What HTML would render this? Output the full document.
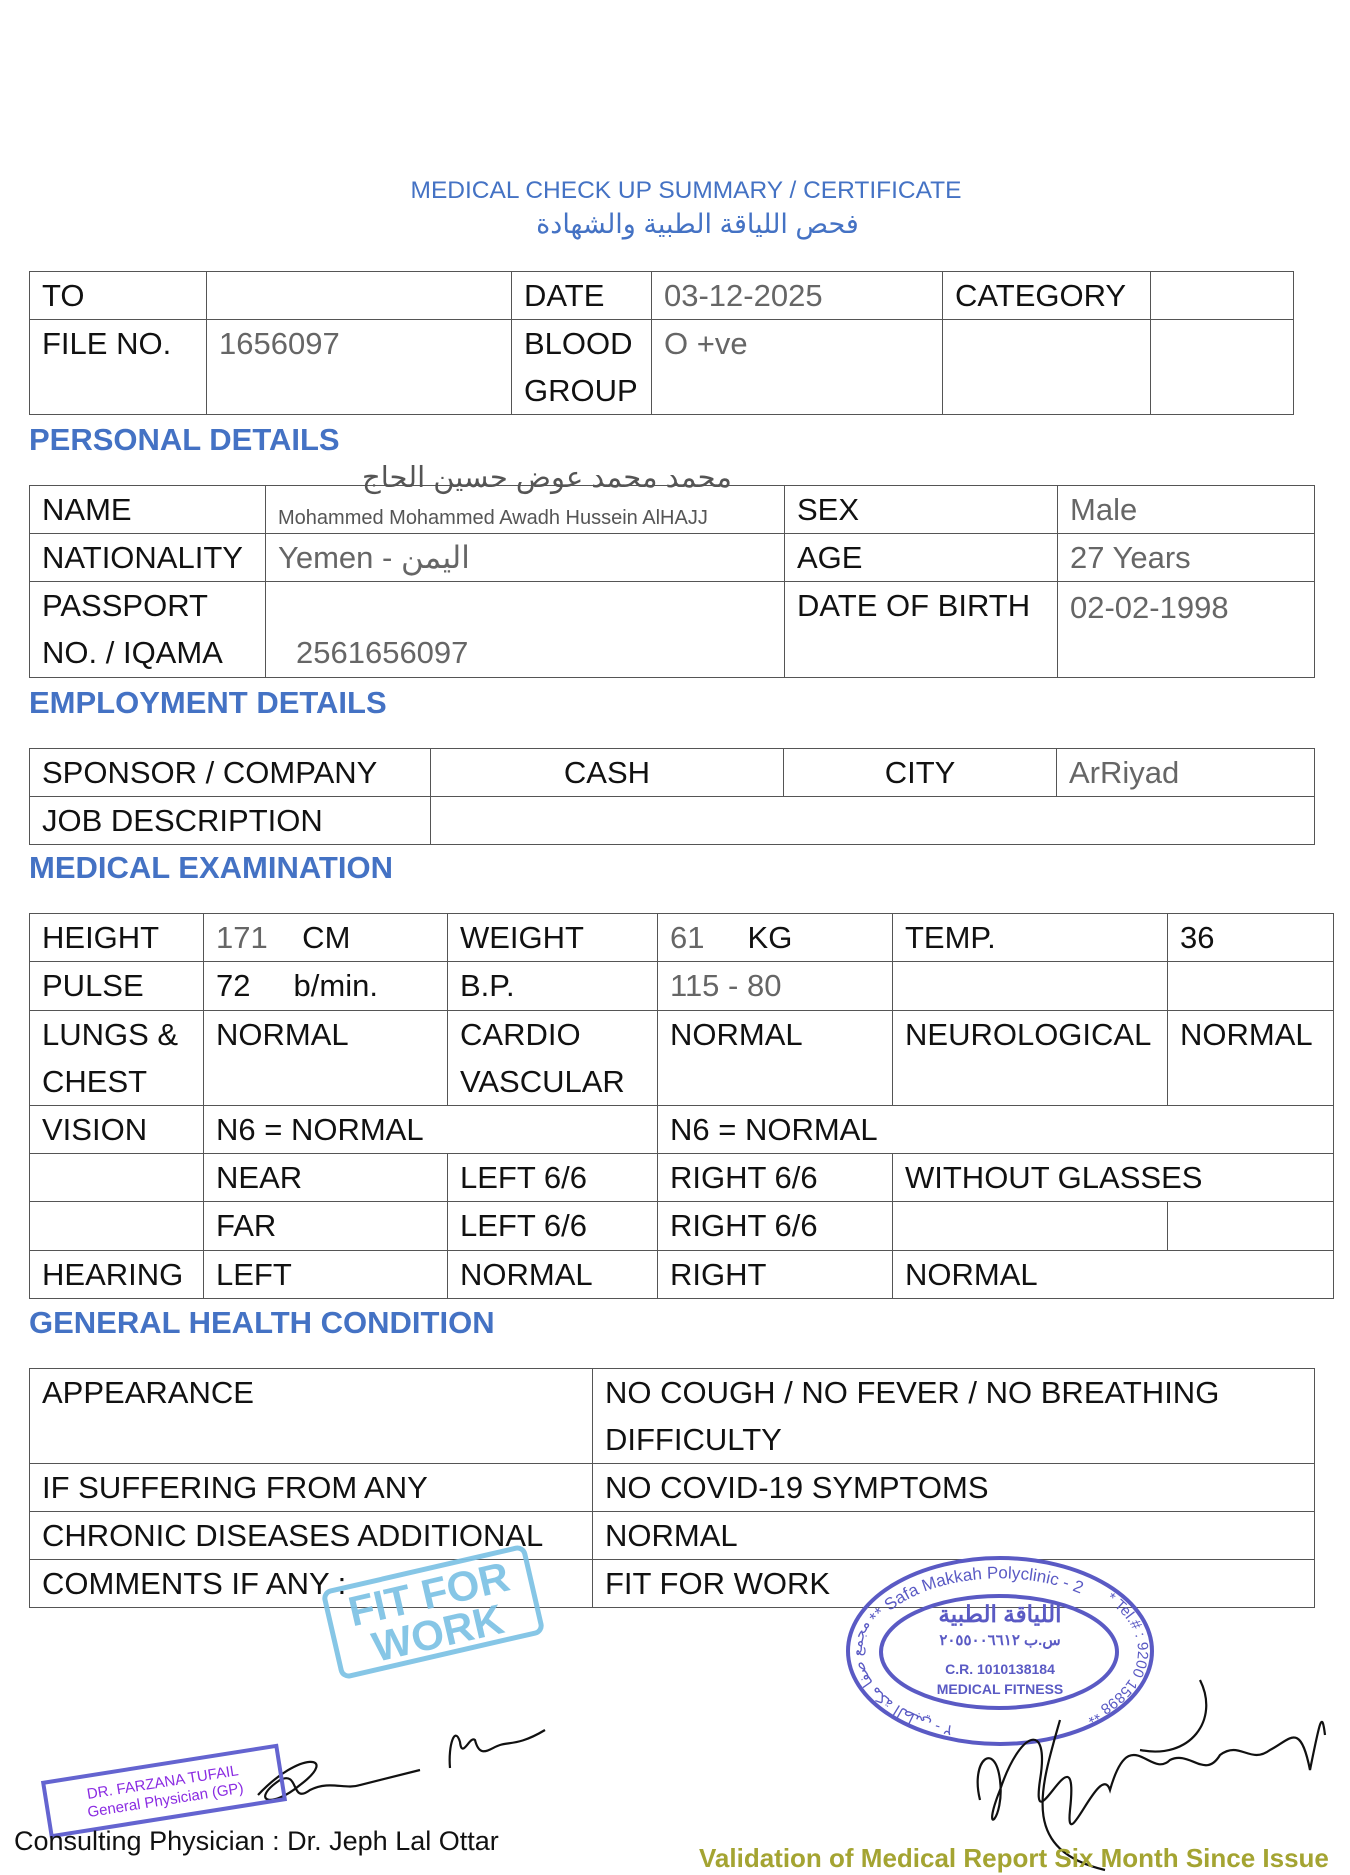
<!DOCTYPE html>
<html><head><meta charset="utf-8">
<style>
*{margin:0;padding:0;box-sizing:border-box}
body{width:1350px;height:1875px;background:#fff;position:relative;overflow:hidden;font-family:"Liberation Sans","Noto Sans CJK SC",sans-serif;color:#111}
.t{position:absolute;border-collapse:collapse;table-layout:fixed;font-size:31px}
.t td{border:1.5px solid #555;vertical-align:top;padding:0 0 0 12px;line-height:47px;white-space:nowrap;overflow:visible}
.g{color:#666}
.h{position:absolute;left:29px;color:#4472c4;font-weight:bold;font-size:31px}
.abs{position:absolute;white-space:nowrap}
</style></head><body>
<div class="abs" style="left:0;width:1372px;text-align:center;top:177px;color:#4472c4;font-size:24.5px">MEDICAL CHECK UP SUMMARY / CERTIFICATE</div>
<div class="abs" style="left:0;width:1395px;text-align:center;top:209px;color:#4472c4;font-size:27px">فحص اللياقة الطبية والشهادة</div>

<table class="t" style="left:29px;top:271px;width:1264px">
<colgroup><col style="width:177px"><col style="width:305px"><col style="width:140px"><col style="width:291px"><col style="width:208px"><col style="width:143px"></colgroup>
<tr style="height:48px"><td>TO</td><td></td><td>DATE</td><td class="g">03-12-2025</td><td>CATEGORY</td><td></td></tr>
<tr style="height:95px"><td>FILE NO.</td><td class="g">1656097</td><td>BLOOD<br>GROUP</td><td class="g">O +ve</td><td></td><td></td></tr>
</table>

<div class="h" style="top:422px">PERSONAL DETAILS</div>
<table class="t" style="left:29px;top:485px;width:1285px">
<colgroup><col style="width:236px"><col style="width:519px"><col style="width:273px"><col style="width:257px"></colgroup>
<tr style="height:48px"><td>NAME</td><td style="font-size:20px;color:#555;line-height:20px;padding-top:22px">Mohammed Mohammed Awadh Hussein AlHAJJ</td><td>SEX</td><td class="g">Male</td></tr>
<tr style="height:48px"><td>NATIONALITY</td><td class="g">Yemen - اليمن</td><td>AGE</td><td class="g">27 Years</td></tr>
<tr style="height:96px"><td>PASSPORT<br>NO. / IQAMA</td><td class="g" style="padding-top:47px;padding-left:30px">2561656097</td><td>DATE OF BIRTH</td><td class="g" style="padding-top:2px">02-02-1998</td></tr>
</table>
<div class="abs" style="left:362px;top:460px;font-size:29px;color:#555">محمد محمد عوض حسين الحاج</div>

<div class="h" style="top:685px">EMPLOYMENT DETAILS</div>
<table class="t" style="left:29px;top:748px;width:1285px">
<colgroup><col style="width:401px"><col style="width:353px"><col style="width:273px"><col style="width:258px"></colgroup>
<tr style="height:48px"><td>SPONSOR / COMPANY</td><td style="text-align:center;padding-left:0">CASH</td><td style="text-align:center;padding-left:0">CITY</td><td class="g">ArRiyad</td></tr>
<tr style="height:47px"><td>JOB DESCRIPTION</td><td colspan="3"></td></tr>
</table>

<div class="h" style="top:850px">MEDICAL EXAMINATION</div>
<table class="t" style="left:29px;top:913px;width:1304px">
<colgroup><col style="width:174px"><col style="width:244px"><col style="width:210px"><col style="width:235px"><col style="width:275px"><col style="width:166px"></colgroup>
<tr style="height:48px"><td>HEIGHT</td><td><span class="g">171</span>&nbsp;&nbsp;&nbsp;&nbsp;CM</td><td>WEIGHT</td><td><span class="g">61</span>&nbsp;&nbsp;&nbsp;&nbsp;&nbsp;KG</td><td>TEMP.</td><td>36</td></tr>
<tr style="height:49px"><td>PULSE</td><td>72&nbsp;&nbsp;&nbsp;&nbsp;&nbsp;b/min.</td><td>B.P.</td><td class="g">115 - 80</td><td></td><td></td></tr>
<tr style="height:95px"><td>LUNGS &amp;<br>CHEST</td><td>NORMAL</td><td>CARDIO<br>VASCULAR</td><td>NORMAL</td><td>NEUROLOGICAL</td><td>NORMAL</td></tr>
<tr style="height:48px"><td>VISION</td><td colspan="2">N6 = NORMAL</td><td colspan="3">N6 = NORMAL</td></tr>
<tr style="height:48px"><td></td><td>NEAR</td><td>LEFT 6/6</td><td>RIGHT 6/6</td><td colspan="2">WITHOUT GLASSES</td></tr>
<tr style="height:49px"><td></td><td>FAR</td><td>LEFT 6/6</td><td>RIGHT 6/6</td><td></td><td></td></tr>
<tr style="height:48px"><td>HEARING</td><td>LEFT</td><td>NORMAL</td><td>RIGHT</td><td colspan="2">NORMAL</td></tr>
</table>

<div class="h" style="top:1305px">GENERAL HEALTH CONDITION</div>
<table class="t" style="left:29px;top:1368px;width:1285px">
<colgroup><col style="width:563px"><col style="width:722px"></colgroup>
<tr style="height:95px"><td>APPEARANCE</td><td>NO COUGH / NO FEVER / NO BREATHING<br>DIFFICULTY</td></tr>
<tr style="height:48px"><td>IF SUFFERING FROM ANY</td><td>NO COVID-19 SYMPTOMS</td></tr>
<tr style="height:48px"><td>CHRONIC DISEASES ADDITIONAL</td><td>NORMAL</td></tr>
<tr style="height:48px"><td>COMMENTS IF ANY :</td><td>FIT FOR WORK</td></tr>
</table>

<div class="abs" style="left:328px;top:1566px;width:210px;height:92px;border:5px solid #7ac0e4;border-radius:10px;transform:rotate(-13deg);color:#7ac0e4;font-weight:bold;font-size:42px;line-height:40px;text-align:center;padding-top:3px;opacity:.9">FIT FOR<br>WORK</div>

<svg class="abs" style="left:0;top:0" width="1350" height="1875">
<ellipse cx="1000" cy="1651" rx="152" ry="93" fill="none" stroke="#5a5ac4" stroke-width="4"/>
<ellipse cx="999" cy="1652" rx="118" ry="56" fill="none" stroke="#5a5ac4" stroke-width="4"/>
<defs>
<path id="arc" d="M868,1640 A135,78 0 0 1 1132,1640"/>
<path id="arcR" d="M1106,1600 A138,80 0 0 1 1024,1730"/>
<path id="arcL" d="M953,1726 A138,80 0 0 1 870,1624"/>
</defs>
<text font-family="Liberation Sans" font-size="17" fill="#5a5ac4"><textPath href="#arc" startOffset="6%">** Safa Makkah Polyclinic - 2</textPath></text>
<text font-family="Liberation Sans" font-size="15" fill="#5a5ac4"><textPath href="#arcR">* Tel.# : 9200 15898 **</textPath></text>
<text font-family="Liberation Sans,sans-serif" font-size="15" fill="#5a5ac4"><textPath href="#arcL">مجمع صفا مكة الطبي - ٢</textPath></text>
<text x="1000" y="1622" text-anchor="middle" font-family="Liberation Sans,sans-serif" font-size="23" font-weight="bold" fill="#5a5ac4">اللياقة الطبية</text>
<text x="1000" y="1645" text-anchor="middle" font-family="Liberation Sans,sans-serif" font-size="15" font-weight="bold" fill="#5a5ac4">س.ب ٢٠٥٥٠٠٦٦١٢</text>
<text x="1000" y="1674" text-anchor="middle" font-family="Liberation Sans,sans-serif" font-size="14" font-weight="bold" fill="#5a5ac4">C.R. 1010138184</text>
<text x="1000" y="1694" text-anchor="middle" font-family="Liberation Sans,sans-serif" font-size="14" font-weight="bold" fill="#5a5ac4">MEDICAL FITNESS</text>
<g fill="none" stroke="#111" stroke-width="2.2">
<path d="M258,1795 C300,1750 340,1755 300,1785 C270,1810 250,1800 280,1780 C300,1770 290,1805 310,1790 C330,1780 345,1790 360,1785 C380,1780 400,1775 420,1770"/>
<path d="M450,1768 C448,1745 455,1725 460,1742 C462,1760 470,1735 475,1740 C480,1760 490,1748 500,1745 C510,1742 520,1745 545,1730"/>
<path d="M980,1800 C970,1760 995,1740 1000,1780 C1005,1820 980,1840 1000,1790 C1020,1730 1050,1720 1040,1780 C1030,1850 1080,1720 1070,1810 C1065,1860 1100,1760 1110,1790 C1130,1720 1150,1780 1170,1760 C1190,1750 1205,1780 1220,1755 C1240,1740 1250,1765 1270,1750 C1290,1740 1300,1720 1310,1770 C1320,1720 1322,1710 1325,1735"/>
<path d="M1200,1680 C1220,1720 1190,1760 1140,1750"/>
<path d="M1060,1720 C1040,1790 1020,1850 1105,1870"/>
</g>
</svg>

<div class="abs" style="left:44px;top:1762px;width:240px;height:58px;border:4px solid #6464d0;transform:rotate(-9deg);color:#8a2be2;font-size:15px;line-height:18px;text-align:center;padding-top:8px">DR. FARZANA TUFAIL<br>General Physician (GP)</div>

<div class="abs" style="left:14px;top:1826px;font-size:27px;color:#111">Consulting Physician : Dr. Jeph Lal Ottar</div>
<div class="abs" style="left:699px;top:1843px;font-size:26px;color:#a4a432;font-weight:bold">Validation of Medical Report Six Month Since Issue</div>
</body></html>
